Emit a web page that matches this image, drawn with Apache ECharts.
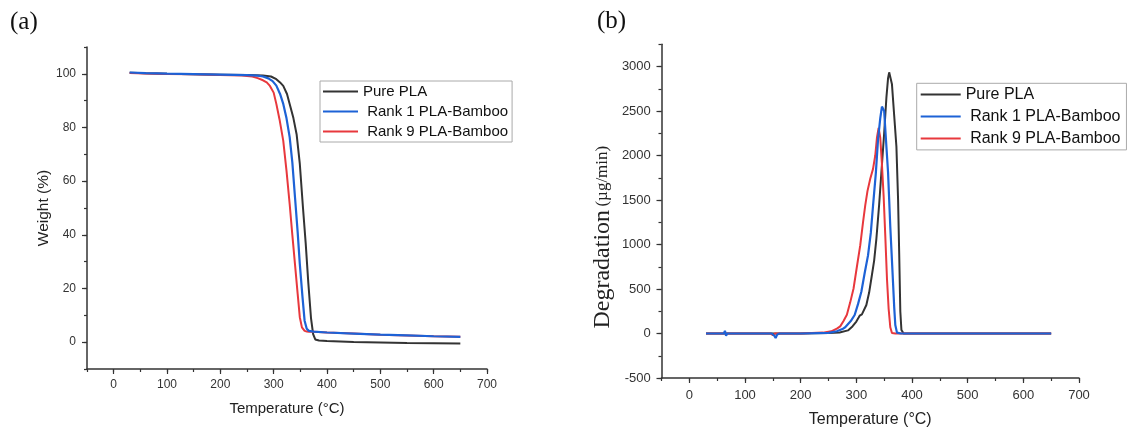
<!DOCTYPE html>
<html>
<head>
<meta charset="utf-8">
<script src="https://cdn.jsdelivr.net/npm/echarts@6/dist/echarts.min.js"></script>
<style>html,body{margin:0;padding:0;background:#fff;}#c{width:1136px;height:433px;}</style>
</head>
<body>
<div id="c"></div>
<script>
// ---------- DATA ----------
const seriesNames = ['Pure PLA', 'Rank 1 PLA-Bamboo', 'Rank 9 PLA-Bamboo'];

// (a) TGA: weight (%) vs temperature (°C)
const tgaPureT = [30, 60, 100, 150, 200, 250, 280, 295, 305, 312, 318, 325, 330, 337, 343, 349, 355, 360, 365, 370, 374, 378, 385, 400, 450, 500, 550, 600, 650];
const tgaPureW = [100.4, 100.2, 100.0, 99.8, 99.7, 99.6, 99.4, 99.0, 98.0, 96.8, 95.5, 92.5, 88.8, 83.5, 77.5, 66.5, 50, 37, 22, 9, 3, 1.0, 0.6, 0.4, 0.1, -0.1, -0.3, -0.4, -0.5];
const tgaRank1T = [30, 60, 100, 150, 200, 250, 270, 280, 290, 298, 305, 312, 318, 324, 330, 335, 340, 345, 349, 354, 358, 362, 366, 375, 400, 450, 500, 550, 600, 650];
const tgaRank1W = [100.5, 100.3, 100.1, 99.9, 99.7, 99.5, 99.3, 99.0, 98.3, 97.3, 95.6, 92.5, 88.8, 83.5, 76.4, 67, 54, 41, 29.2, 17, 8.0, 5.0, 4.2, 3.9, 3.6, 3.2, 2.8, 2.5, 2.2, 2.0];
const tgaRank9T = [30, 60, 100, 150, 200, 240, 260, 270, 280, 287, 293, 300, 305, 311, 318, 324, 330, 335, 340, 345, 349, 353, 358, 362, 366, 375, 400, 450, 500, 550, 600, 650];
const tgaRank9W = [100.3, 100.1, 99.9, 99.8, 99.6, 99.4, 99.0, 98.4, 97.6, 96.8, 95.5, 93, 88.8, 83, 75, 64, 51.5, 40, 29, 18, 9.3, 5.5, 4.2, 4.0, 3.9, 3.9, 3.6, 3.2, 2.8, 2.5, 2.2, 2.0];

// (b) DTG: degradation (µg/min) vs temperature (°C)
const dtgPureT = [30, 100, 200, 250, 270, 285, 293, 300, 306, 310, 313, 318, 323, 327, 332, 336, 341, 345, 350, 354, 357, 359, 361, 364, 368, 372, 375, 377, 379, 381, 385, 450, 550, 650];
const dtgPureV = [0, 0, 0, 5, 12, 35, 80, 134, 200, 215, 225, 320, 460, 618, 820, 1064, 1450, 1809, 2250, 2650, 2870, 2935, 2920, 2800, 2450, 2100, 1500, 900, 250, 40, 0, 0, 0, 0];
const dtgRank1T = [30, 62, 64, 66, 68, 100, 148, 152, 155, 158, 162, 200, 250, 265, 275, 280, 283, 290, 297, 303, 309, 315, 321, 326, 330, 335, 339, 343, 346, 348, 350, 353, 357, 361, 365, 368, 370, 373, 380, 450, 550, 650];
const dtgRank1V = [0, 0, 30, -25, 0, 0, 0, -20, -50, -10, 0, 0, 8, 25, 50, 70, 80, 140, 208, 330, 469, 680, 878, 1130, 1436, 1800, 2181, 2420, 2550, 2570, 2500, 2200, 1809, 1200, 692, 300, 96, 10, 0, 0, 0, 0];
const dtgRank9T = [30, 100, 146, 150, 154, 200, 240, 255, 265, 271, 277, 283, 289, 295, 301, 307, 312, 316, 320, 325, 330, 334, 337, 340, 343, 346, 349, 352, 355, 358, 361, 364, 370, 450, 550, 650];
const dtgRank9V = [0, 0, 0, -20, 0, 0, 10, 25, 55, 80, 140, 210, 350, 506, 750, 990, 1250, 1440, 1600, 1740, 1850, 2000, 2200, 2310, 2200, 1900, 1550, 1100, 620, 280, 70, 5, 0, 0, 0, 0];

// Axis ticks
const xMajorTicks = [0, 100, 200, 300, 400, 500, 600, 700];
const tgaMajorTicks = [0, 20, 40, 60, 80, 100];
const dtgMajorTicks = [-500, 0, 500, 1000, 1500, 2000, 2500, 3000];

// ---------- CHART ----------
const colors = ['#333333', '#1d62d6', '#e8383d'];
const FONT = 'Liberation Sans, Arial, sans-serif';
const SERIF = 'Liberation Serif, Times New Roman, serif';
const zip = (a, b) => a.map((v, i) => [v, b[i]]);

const chart = echarts.init(document.getElementById('c'), null, { renderer: 'canvas' });

function mainX(grid, fontSize, margin, name, nameGap, nameSize) {
  return {
    type: 'value', gridIndex: grid, min: -50, max: 700, interval: 50,
    axisLine: { show: true, onZero: false, lineStyle: { color: '#333', width: 1.5 } },
    axisTick: { show: true, length: 3, lineStyle: { color: '#333', width: 1.2 } },
    axisLabel: { fontSize, fontFamily: FONT, color: '#333', margin,
      formatter: v => (v % 100 === 0 && v >= 0) ? String(v) : '' },
    splitLine: { show: false },
    name, nameLocation: 'middle', nameGap,
    nameTextStyle: { fontSize: nameSize, fontFamily: FONT, color: '#222' }
  };
}
function overlayX(grid) {
  return {
    type: 'value', gridIndex: grid, min: -50, max: 700, position: 'bottom',
    axisLine: { show: false, onZero: false },
    axisTick: { show: true, length: 5, customValues: xMajorTicks, lineStyle: { color: '#333', width: 1.2 } },
    axisLabel: { show: false }, splitLine: { show: false }
  };
}
const legendCommon = {
  data: seriesNames, orient: 'vertical', borderColor: '#aaa', borderWidth: 1,
  itemStyle: { opacity: 0 },
  formatter: n => n.startsWith('Rank') ? ' ' + n : n
};

const option = {
  animation: false,
  backgroundColor: '#fff',
  title: [
    { text: '(a)', left: 5, top: 5, textStyle: { fontFamily: SERIF, fontSize: 25, fontWeight: 'normal', color: '#111' } },
    { text: '(b)', left: 592, top: 4, textStyle: { fontFamily: SERIF, fontSize: 25, fontWeight: 'normal', color: '#111' } }
  ],
  grid: [
    { left: 87, top: 47, width: 400, height: 322, containLabel: false },
    { left: 661.5, top: 44.3, width: 417.5, height: 336, containLabel: false }
  ],
  legend: [
    Object.assign({}, legendCommon, { left: 320, top: 81, padding: [3, 4, 3, 2],
      itemWidth: 35, itemHeight: 14, itemGap: 5,
      textStyle: { fontSize: 15, fontFamily: FONT, color: '#111' } }),
    Object.assign({}, legendCommon, { left: 916.7, top: 83.3, padding: [3.3, 6, 3.3, 3],
      itemWidth: 40, itemHeight: 16, itemGap: 6,
      textStyle: { fontSize: 16, fontFamily: FONT, color: '#111' } })
  ],
  xAxis: [
    mainX(0, 12, 10, 'Temperature (°C)', 32, 15),
    overlayX(0),
    mainX(1, 13, 11, 'Temperature (°C)', 34, 16),
    overlayX(1)
  ],
  yAxis: [
    { type: 'value', gridIndex: 0, min: -10, max: 110, interval: 10,
      axisLine: { show: true, onZero: false, lineStyle: { color: '#333', width: 1.5 } },
      axisTick: { show: true, length: 3, lineStyle: { color: '#333', width: 1.2 } },
      axisLabel: { fontSize: 12, fontFamily: FONT, color: '#333', margin: 11,
        formatter: v => (v % 20 === 0 && v >= 0 && v <= 100) ? String(v) : '' },
      splitLine: { show: false },
      name: 'Weight (%)', nameLocation: 'middle', nameGap: 35,
      nameTextStyle: { fontSize: 15.5, fontFamily: FONT, color: '#222' } },
    { type: 'value', gridIndex: 0, min: -10, max: 110, position: 'left',
      axisLine: { show: false, onZero: false },
      axisTick: { show: true, length: 5, customValues: tgaMajorTicks, lineStyle: { color: '#333', width: 1.2 } },
      axisLabel: { show: false }, splitLine: { show: false } },
    { type: 'value', gridIndex: 1, min: -500, max: 3250, interval: 250,
      axisLine: { show: true, onZero: false, lineStyle: { color: '#333', width: 1.5 } },
      axisTick: { show: true, length: 3, lineStyle: { color: '#333', width: 1.2 } },
      axisLabel: { fontSize: 13, fontFamily: FONT, color: '#333', margin: 10.7,
        formatter: v => (v % 500 === 0 && v <= 3000) ? String(v) : '' },
      splitLine: { show: false },
      name: '{a|Degradation} {b|(µg/min)}', nameLocation: 'middle', nameGap: 47,
      nameTextStyle: { color: '#222', padding: [0, 52, 0, 0],
        rich: { a: { fontFamily: SERIF, fontSize: 24, color: '#222' },
                b: { fontFamily: SERIF, fontSize: 17, color: '#222' } } } },
    { type: 'value', gridIndex: 1, min: -500, max: 3250, position: 'left',
      axisLine: { show: false, onZero: false },
      axisTick: { show: true, length: 5, customValues: dtgMajorTicks, lineStyle: { color: '#333', width: 1.2 } },
      axisLabel: { show: false }, splitLine: { show: false } }
  ],
  series: [
    { name: seriesNames[0], type: 'line', xAxisIndex: 0, yAxisIndex: 0, data: zip(tgaPureT, tgaPureW),
      symbol: 'none', color: colors[0], lineStyle: { width: 2, color: colors[0] }, z: 2 },
    { name: seriesNames[2], type: 'line', xAxisIndex: 0, yAxisIndex: 0, data: zip(tgaRank9T, tgaRank9W),
      symbol: 'none', color: colors[2], lineStyle: { width: 2, color: colors[2] }, z: 3 },
    { name: seriesNames[1], type: 'line', xAxisIndex: 0, yAxisIndex: 0, data: zip(tgaRank1T, tgaRank1W),
      symbol: 'none', color: colors[1], lineStyle: { width: 2.2, color: colors[1] }, z: 4 },
    { name: seriesNames[0], type: 'line', xAxisIndex: 2, yAxisIndex: 2, data: zip(dtgPureT, dtgPureV),
      symbol: 'none', color: colors[0], lineStyle: { width: 2, color: colors[0] }, z: 2 },
    { name: seriesNames[2], type: 'line', xAxisIndex: 2, yAxisIndex: 2, data: zip(dtgRank9T, dtgRank9V),
      symbol: 'none', color: colors[2], lineStyle: { width: 2, color: colors[2] }, z: 3 },
    { name: seriesNames[1], type: 'line', xAxisIndex: 2, yAxisIndex: 2, data: zip(dtgRank1T, dtgRank1V),
      symbol: 'none', color: colors[1], lineStyle: { width: 2.2, color: colors[1] }, z: 4 }
  ]
};
chart.setOption(option);
</script>
</body>
</html>
